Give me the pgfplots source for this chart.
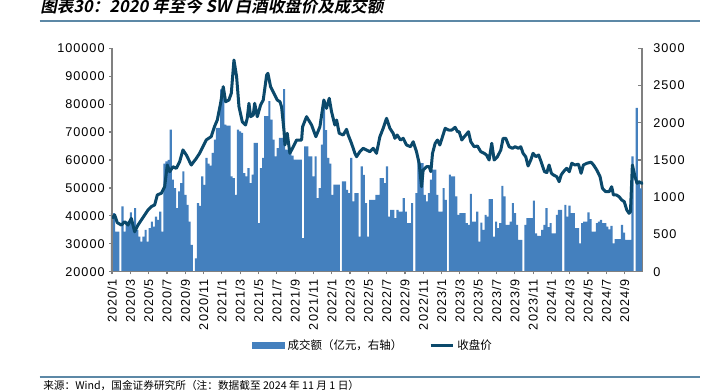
\documentclass[border=0pt]{standalone}
\usepackage{fontspec}
\usepackage{pgfplots}
\pgfplotsset{compat=1.18}
\setmainfont{Liberation Sans}
\newfontfamily\tickfont{Liberation Sans}[LetterSpace=8]
\newfontfamily\cjk{Noto Sans CJK SC}
\newfontfamily\cjktitle{Noto Sans CJK SC}[UprightFont=* Bold, FakeSlant=0.2]
\definecolor{barc}{RGB}{68,128,190}
\definecolor{linec}{RGB}{11,73,107}
\definecolor{rulec}{RGB}{92,136,166}
\definecolor{axc}{RGB}{128,128,128}
\newcommand{\tf}{\tickfont\fontsize{9.5}{11}\selectfont}
\begin{document}
\begin{tikzpicture}[x=0.75pt,y=0.75pt]
\path[use as bounding box] (0,0) rectangle (714,392);
% bars: weekly turnover (right axis)
\begin{axis}[
  at={(84pt,90.225pt)}, anchor=origin,
  scale only axis, width=398.25pt, height=167.55pt,
  xmin=-0.5, xmax=252.5, ymin=0, ymax=3000,
  axis x line=none, axis y line*=right,
  ytick={0,500,...,3000},
  yticklabel style={font=\tf, xshift=5pt},
  /pgf/number format/assume math mode=true,
  /pgf/number format/fixed,
  /pgf/number format/precision=0,
  /pgf/number format/set thousands separator={},
  scaled y ticks=false,
  axis line style={-, axc, line width=0.9pt},
  tick style={axc, line width=0.9pt},
  tick align=inside, major tick length=3pt,
]
\addplot[ybar, bar width=1.03, fill=barc, draw=none] table[row sep=\\] {
i v\\
0 786\\ 1 786\\ 2 539\\ 3 539\\ 4 0\\ 5 876\\ 6 539\\ 7 673\\ 8 673\\ 9 795\\
10 606\\ 11 853\\ 12 561\\ 13 471\\ 14 404\\ 15 471\\ 16 561\\ 17 404\\ 18 584\\ 19 673\\
20 606\\ 21 741\\ 22 696\\ 23 808\\ 24 539\\ 25 1450\\ 26 1480\\ 27 1500\\ 28 1908\\ 29 1235\\
30 1122\\ 31 853\\ 32 1078\\ 33 1190\\ 34 1347\\ 35 1033\\ 36 898\\ 37 673\\ 38 359\\ 39 0\\
40 180\\ 41 920\\ 42 885\\ 43 1280\\ 44 1167\\ 45 1527\\ 46 1450\\ 47 1423\\ 48 1594\\ 49 1773\\
50 1930\\ 51 1930\\ 52 2447\\ 53 2335\\ 54 1975\\ 55 1962\\ 56 1962\\ 57 1280\\ 58 1257\\ 59 1033\\
60 1908\\ 61 1886\\ 62 1863\\ 63 1325\\ 64 1280\\ 65 1392\\ 66 1190\\ 67 1302\\ 68 1729\\ 69 1729\\
70 651\\ 71 1392\\ 72 1527\\ 73 2088\\ 74 2088\\ 75 2290\\ 76 2043\\ 77 1773\\ 78 1549\\ 79 1661\\
80 1796\\ 81 1796\\ 82 2452\\ 83 1639\\ 84 1639\\ 85 1639\\ 86 1560\\ 87 1505\\ 88 1505\\ 89 1505\\
90 1505\\ 91 450\\ 92 1683\\ 93 1683\\ 94 1549\\ 95 1549\\ 96 1280\\ 97 1549\\ 98 988\\ 99 1123\\
100 1706\\ 101 2300\\ 102 1900\\ 103 1527\\ 104 1450\\ 105 1033\\ 106 1168\\ 107 1168\\ 108 1168\\ 109 0\\
110 1212\\ 111 1212\\ 112 1100\\ 113 1055\\ 114 1527\\ 115 943\\ 116 1055\\ 117 1055\\ 118 471\\ 119 1415\\
120 1300\\ 121 921\\ 122 471\\ 123 966\\ 124 966\\ 125 966\\ 126 1033\\ 127 1033\\ 128 1257\\ 129 1257\\
130 1190\\ 131 1415\\ 132 741\\ 133 831\\ 134 831\\ 135 718\\ 136 831\\ 137 808\\ 138 808\\ 139 988\\
140 808\\ 141 651\\ 142 651\\ 143 920\\ 144 0\\ 145 1055\\ 146 1482\\ 147 1459\\ 148 1459\\ 149 1033\\
150 943\\ 151 1055\\ 152 1235\\ 153 1370\\ 154 1370\\ 155 1033\\ 156 808\\ 157 808\\ 158 1123\\ 159 966\\
160 0\\ 161 1302\\ 162 1280\\ 163 1280\\ 164 1010\\ 165 763\\ 166 786\\ 167 786\\ 168 786\\ 169 651\\
170 629\\ 171 1046\\ 172 674\\ 173 674\\ 174 808\\ 175 404\\ 176 660\\ 177 561\\ 178 763\\ 179 741\\
180 975\\ 181 975\\ 182 471\\ 183 674\\ 184 584\\ 185 651\\ 186 1154\\ 187 1010\\ 188 629\\ 189 629\\
190 674\\ 191 921\\ 192 786\\ 193 629\\ 194 427\\ 195 427\\ 196 0\\ 197 629\\ 198 718\\ 199 718\\
200 718\\ 201 953\\ 202 516\\ 203 480\\ 204 480\\ 205 561\\ 206 629\\ 207 853\\ 208 597\\ 209 651\\
210 516\\ 211 516\\ 212 763\\ 213 831\\ 214 831\\ 215 0\\ 216 898\\ 217 741\\ 218 886\\ 219 786\\
220 786\\ 221 584\\ 222 584\\ 223 382\\ 224 651\\ 225 674\\ 226 674\\ 227 795\\ 228 705\\ 229 539\\
230 539\\ 231 651\\ 232 674\\ 233 696\\ 234 651\\ 235 651\\ 236 606\\ 237 570\\ 238 615\\ 239 382\\
240 436\\ 241 436\\ 242 436\\ 243 629\\ 244 525\\ 245 427\\ 246 427\\ 247 427\\ 248 1549\\ 249 0\\
250 2200\\ 251 1190\\ 252 1120\\
};
\end{axis}
% line: closing price (left axis)
\begin{axis}[
  at={(84pt,90.225pt)}, anchor=origin,
  scale only axis, width=398.25pt, height=167.55pt,
  xmin=0, xmax=58, ymin=20000, ymax=100000,
  axis x line*=bottom, axis y line*=left,
  ytick={20000,30000,...,100000},
  xtick={0,2,...,56},
  xticklabels={2020/1,2020/3,2020/5,2020/7,2020/9,2020/11,2021/1,2021/3,2021/5,2021/7,2021/9,2021/11,2022/1,2022/3,2022/5,2022/7,2022/9,2022/11,2023/1,2023/3,2023/5,2023/7,2023/9,2023/11,2024/1,2024/3,2024/5,2024/7,2024/9},
  xticklabel style={font=\tf, rotate=90, anchor=east},
  yticklabel style={font=\tf},
  /pgf/number format/assume math mode=true,
  /pgf/number format/fixed,
  /pgf/number format/precision=0,
  /pgf/number format/set thousands separator={},
  scaled y ticks=false,
  axis line style={-, axc, line width=0.9pt},
  tick style={axc, line width=0.9pt},
  tick align=outside, major tick length=2pt,
  legend style={at={(0.4925,-0.331)}, anchor=center, draw=none, fill=none,
    font=\cjk\fontsize{8.6}{10}\selectfont, inner sep=0pt,
    /tikz/every even column/.append style={column sep=18pt}},
  legend columns=2,
]
\addlegendimage{legend image code/.code={\fill[barc] (0pt,-2.25pt) rectangle (24pt,2.25pt);}}
\addlegendentry{成交额（亿元，右轴）}
\addplot[linec, line width=2.25pt, line join=round, mark=none] table[row sep=\\] {
m v\\
0 39100\\ 0.29 40300\\ 0.58 37550\\ 1.02 36700\\ 1.38 37900\\ 1.75 36700\\ 2.11 39100\\ 2.47 34300\\ 2.84 36700\\ 3.2 38500\\
3.57 40300\\ 3.93 42100\\ 4.29 43300\\ 4.66 43900\\ 4.95 47500\\ 5.39 48100\\ 5.75 50400\\ 6.04 58200\\ 6.3 55800\\ 6.66 57600\\
7.02 57000\\ 7.39 59400\\ 7.75 63600\\ 8.12 61800\\ 8.66 58200\\ 9.21 60600\\ 9.57 62400\\ 9.93 64800\\ 10.3 67200\\ 10.84 68400\\
11.2 72000\\ 11.5 74320\\ 11.86 80300\\ 12.15 86250\\ 12.41 80880\\ 12.77 81480\\ 13.03 83880\\ 13.32 95810\\ 13.61 89840\\ 13.87 79100\\
14.23 73720\\ 14.59 72530\\ 14.77 74930\\ 14.96 80300\\ 15.14 75510\\ 15.43 76110\\ 15.58 80300\\ 15.87 75510\\ 16.23 79700\\ 16.52 81480\\
16.89 90440\\ 17.03 91050\\ 17.32 86250\\ 17.69 83880\\ 18.05 81480\\ 18.34 80880\\ 18.52 79090\\ 18.78 70740\\ 18.89 65370\\ 19.14 69560\\
19.43 62400\\ 19.8 64760\\ 20.16 67160\\ 20.71 67160\\ 20.82 71920\\ 21.25 75510\\ 21.8 72530\\ 22.27 68340\\ 22.71 71920\\ 23.14 81480\\
23.43 78510\\ 23.73 82090\\ 23.98 77300\\ 24.34 72530\\ 24.53 74320\\ 24.82 69560\\ 25.25 68950\\ 25.62 70990\\ 25.8 68950\\ 26.16 65980\\
26.53 62400\\ 26.71 61180\\ 27.07 62970\\ 27.44 64190\\ 27.8 63580\\ 28.16 62970\\ 28.53 64190\\ 28.89 62400\\ 29.26 68340\\ 29.62 71350\\
29.99 74930\\ 30.35 71350\\ 30.71 69560\\ 30.9 67770\\ 31.15 68950\\ 31.51 67160\\ 31.81 67770\\ 32.17 65370\\ 32.61 64760\\ 32.9 66550\\
33.26 62970\\ 33.55 58820\\ 33.81 50440\\ 33.99 56420\\ 34.35 57600\\ 34.64 57600\\ 34.83 55810\\ 35.01 62400\\ 35.3 65980\\ 35.55 67160\\
35.81 65370\\ 36.1 68340\\ 36.39 71350\\ 36.76 70740\\ 37.12 70740\\ 37.48 71710\\ 37.74 70130\\ 37.92 70130\\ 38.21 67160\\ 38.47 68340\\
38.65 68950\\ 38.94 70130\\ 39.19 66550\\ 39.56 64760\\ 39.92 65010\\ 40.28 62970\\ 40.65 62400\\ 40.9 61790\\ 41.19 60000\\ 41.48 65980\\
41.74 60000\\ 42.1 61180\\ 42.47 63580\\ 42.72 67770\\ 43.01 67770\\ 43.38 64760\\ 43.74 64190\\ 44.03 64760\\ 44.39 64190\\ 44.65 64760\\
44.9 62400\\ 45.19 61180\\ 45.45 57850\\ 45.74 60000\\ 45.99 62400\\ 46.3 61200\\ 46.6 61790\\ 46.87 59400\\ 47.24 55810\\ 47.5 55500\\
47.74 58210\\ 48.0 55240\\ 48.22 54630\\ 48.58 54020\\ 48.84 52230\\ 49.06 54630\\ 49.31 55810\\ 49.67 57030\\ 49.95 55810\\ 50.22 58820\\
50.58 58210\\ 50.95 58500\\ 51.24 55240\\ 51.49 58210\\ 51.86 58820\\ 52.33 59220\\ 52.6 58210\\ 52.95 56420\\ 53.31 54020\\ 53.57 49860\\
53.93 48650\\ 54.3 48650\\ 54.58 50440\\ 54.77 47470\\ 55.1 47470\\ 55.39 46860\\ 55.68 45680\\ 55.95 45080\\ 56.23 42090\\ 56.48 40910\\
56.63 41500\\ 56.84 58210\\ 57.13 54020\\ 57.35 51660\\ 57.57 52230\\ 57.86 51660\\ 58.0 51900\\
};
\addlegendentry{收盘价}
\end{axis}
\node[anchor=base west, inner sep=0pt] at (40,379) {\cjktitle\fontsize{12.4}{14}\selectfont 图表30：2020 年至今 SW 白酒收盘价及成交额};
\draw[rulec, line width=1.5pt] (39.5,371.3) -- (700,371.3);
\draw[rulec, line width=1.5pt] (39.5,14.7) -- (700,14.7);
\node[anchor=base west, inner sep=0pt] at (43,2.5) {\cjk\fontsize{8}{10}\selectfont 来源：Wind，国金证券研究所（注：数据截至 2024 年 11 月 1 日）};
\end{tikzpicture}
\end{document}
